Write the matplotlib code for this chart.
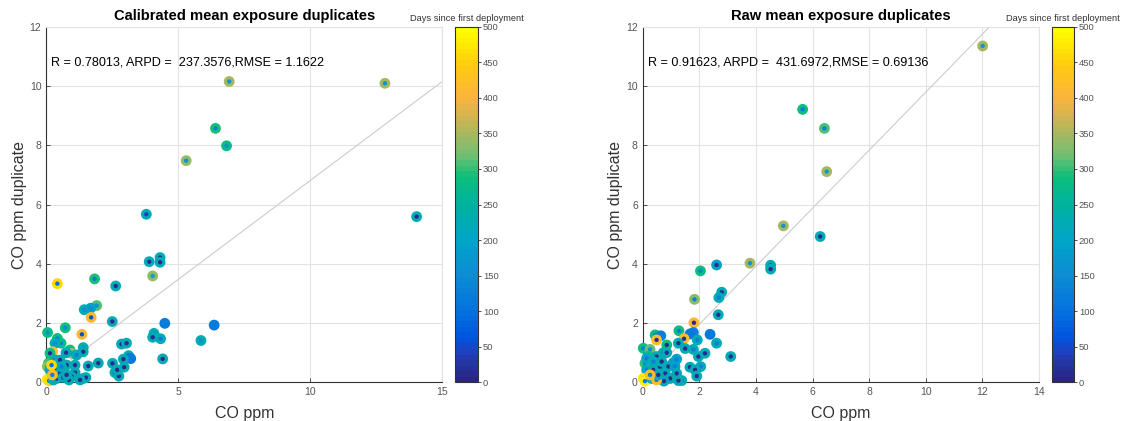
import numpy as np
import matplotlib
matplotlib.use("Agg")
import matplotlib.pyplot as plt
from matplotlib.colors import LinearSegmentedColormap, Normalize

plt.rcParams['font.family'] = ['Liberation Sans', 'DejaVu Sans']

# ---------------- data ----------------
# Calibrated: x, y, face days, edge days
cal_x = [6.93, 12.83, 6.41, 6.83, 5.30, 3.79, 14.03, 3.90, 4.31, 4.31, 4.03, 0.42, 1.83, 2.63,
         1.91, 1.44, 1.68, 1.70, 2.50, 4.49, 6.36, 0.05, 0.72, 1.35, 5.86, 4.08, 4.03, 4.33, 4.41,
         2.85, 3.04, 3.12, 3.20, 2.92, 2.51, 1.97, 1.59, 2.60, 2.75, 2.69, 2.95, 1.40, 1.40, 1.40,
         1.50, 1.28, 1.09, 0.96, 0.86, 0.77, 1.09, 0.90, 0.96, 0.75, 0.56, 0.42, 0.33, 0.24, 0.14,
         0.08, 0.04, 0.14, 0.33, 0.04, 0.11, 0.27, 0.39, 0.52, 0.64, 0.33, 0.52, 0.23, 1.15, 0.77,
         0.58, 0.20]
cal_y = [10.15, 10.09, 8.57, 7.98, 7.48, 5.67, 5.59, 4.07, 4.21, 4.05, 3.59, 3.33, 3.49, 3.25,
         2.59, 2.45, 2.50, 2.19, 2.05, 1.99, 1.93, 1.68, 1.84, 1.62, 1.41, 1.65, 1.52, 1.47, 0.79,
         1.29, 1.32, 0.90, 0.80, 0.78, 0.64, 0.65, 0.55, 0.33, 0.21, 0.42, 0.51, 1.17, 1.03, 0.13,
         0.16, 0.08, 0.33, 0.19, 0.08, 0.58, 0.58, 1.09, 0.98, 1.00, 1.32, 1.48, 1.32, 1.03, 0.98,
         0.64, 0.53, 0.42, 0.42, 0.10, 0.05, 0.08, 0.13, 0.30, 0.17, 0.75, 0.75, 0.25, 0.92, 0.25,
         0.53, 0.58]
cal_face = [170, 170, 130, 170, 170, 40, 10, 10, 10, 10, 200, 100, 120, 10,
            150, 150, 150, 60, 10, 120, 120, 150, 150, 60, 150, 130, 10, 120, 10,
            10, 10, 10, 110, 10, 10, 10, 10, 10, 10, 10, 10, 150, 10, 10,
            10, 10, 10, 10, 10, 10, 10, 130, 130, 10, 130, 130, 150, 80, 10,
            130, 150, 130, 10, 150, 100, 130, 10, 10, 10, 130, 10, 130, 130, 10,
            130, 100]
cal_edge = [350, 350, 290, 280, 340, 220, 225, 220, 220, 220, 340, 460, 290, 225,
            310, 225, 190, 410, 225, 120, 120, 285, 285, 410, 230, 225, 225, 225, 225,
            225, 225, 225, 110, 225, 225, 225, 225, 225, 225, 225, 225, 230, 225, 225,
            225, 225, 225, 225, 225, 225, 225, 285, 330, 225, 285, 285, 225, 420, 285,
            300, 330, 225, 225, 470, 460, 225, 225, 225, 225, 225, 225, 420, 225, 225,
            225, 460]

# Raw: x, y, face days, edge days
raw_x = [12.01, 5.65, 6.42, 6.50, 4.97, 6.27, 3.79, 4.52, 4.52, 2.61, 2.04, 2.79, 2.69, 1.83,
         2.67, 1.81, 1.79, 1.67, 2.38, 2.61, 1.28, 1.46, 1.26, 1.50, 1.93, 1.97, 2.20, 3.11, 2.05,
         1.67, 1.85, 1.91, 1.38, 1.26, 1.79, 1.08, 1.20, 0.91, 0.79, 0.97, 0.75, 0.44, 0.64, 0.49,
         0.85, 0.73, 0.85, 0.02, 0.26, 0.20, 0.49, 0.08, 0.14, 0.38, 0.61, 0.02, 0.08, 0.32, 0.49,
         0.55, 0.26, 0.14, 0.38, 0.67, 1.14, 1.20]
raw_y = [11.35, 9.21, 8.57, 7.11, 5.28, 4.92, 4.02, 3.95, 3.82, 3.96, 3.76, 3.04, 2.86, 2.80,
         2.28, 2.01, 1.68, 1.63, 1.62, 1.32, 1.74, 1.47, 1.32, 1.14, 1.43, 0.87, 0.98, 0.87, 0.53,
         0.51, 0.42, 0.21, 0.06, 0.06, 1.11, 0.66, 0.78, 0.53, 0.30, 0.13, 0.04, 1.60, 1.57, 1.43,
         1.26, 1.00, 1.00, 1.15, 1.11, 0.87, 0.87, 0.64, 0.42, 0.42, 0.53, 0.13, 0.04, 0.13, 0.08,
         0.25, 0.25, 0.81, 0.70, 0.70, 0.53, 0.30]
raw_face = [170, 120, 130, 170, 170, 10, 170, 10, 10, 10, 130, 10, 130, 130,
            10, 10, 130, 110, 110, 130, 120, 10, 10, 10, 130, 10, 10, 10, 130,
            10, 10, 10, 10, 10, 130, 130, 130, 10, 10, 10, 10, 130, 130, 10,
            10, 10, 10, 130, 150, 130, 10, 130, 130, 10, 10, 130, 120, 10, 130,
            10, 130, 130, 130, 10, 130, 10]
raw_edge = [350, 285, 310, 350, 350, 225, 350, 220, 220, 190, 285, 225, 225, 330,
            225, 410, 130, 110, 110, 225, 285, 420, 225, 225, 225, 225, 225, 225, 225,
            225, 225, 225, 225, 225, 225, 190, 190, 225, 225, 225, 225, 285, 130, 420,
            285, 225, 225, 285, 320, 285, 225, 300, 225, 225, 225, 470, 480, 225, 420,
            225, 420, 200, 225, 225, 190, 225]

# line through data: slope, intercept
cal_line = (0.668, 0.13)
raw_line = (0.979, 0.0)

titles = ["Calibrated mean exposure duplicates", "Raw mean exposure duplicates"]
stats = ["R = 0.78013, ARPD =  237.3576,RMSE = 1.1622",
         "R = 0.91623, ARPD =  431.6972,RMSE = 0.69136"]
xlims = [15, 14]
xtick_sets = [[0, 5, 10, 15], [0, 2, 4, 6, 8, 10, 12, 14]]
yticks = [0, 2, 4, 6, 8, 10, 12]
cbar_ticks = list(range(0, 501, 50))
cbar_label = "Days since first deployment"

# parula-like colormap (64 levels), anchors
cmap_anchors = [
    (0,   (0.17, 0.15, 0.50)),
    (40,  (0.12, 0.25, 0.75)),
    (60,  (0.00, 0.33, 0.88)),
    (100, (0.02, 0.45, 0.87)),
    (150, (0.05, 0.55, 0.83)),
    (200, (0.00, 0.65, 0.78)),
    (250, (0.00, 0.70, 0.62)),
    (290, (0.05, 0.75, 0.48)),
    (320, (0.45, 0.75, 0.45)),
    (350, (0.65, 0.72, 0.38)),
    (400, (0.98, 0.70, 0.25)),
    (450, (1.00, 0.80, 0.05)),
    (500, (1.00, 1.00, 0.00)),
]
parula = LinearSegmentedColormap.from_list(
    "parula_like", [(v / 500.0, c) for v, c in cmap_anchors], N=64)
norm = Normalize(0, 500)

fig = plt.figure(figsize=(11.23, 4.21), dpi=100)
ax_rects = [[0.0412, 0.0919, 0.3526, 0.8447], [0.5723, 0.0919, 0.3529, 0.8447]]
cb_rects = [[0.4052, 0.0919, 0.0205, 0.8447], [0.9368, 0.0919, 0.0196, 0.8447]]

datasets = [(cal_x, cal_y, cal_face, cal_edge, cal_line), (raw_x, raw_y, raw_face, raw_edge, raw_line)]
tick_col = '#555555'
for i, (xs, ys, fc, ec, line) in enumerate(datasets):
    ax = fig.add_axes(ax_rects[i])
    ax.set_xlim(0, xlims[i])
    ax.set_ylim(0, 12)
    ax.set_xticks(xtick_sets[i])
    ax.set_yticks(yticks)
    ax.grid(True, color='#e3e3e3', linewidth=0.8)
    ax.set_axisbelow(True)
    lx = np.array([0, xlims[i]])
    ax.plot(lx, line[0] * lx + line[1], color='#cccccc', linewidth=0.8, zorder=1)
    ax.scatter(xs, ys, c=fc, cmap=parula, norm=norm, s=30,
               edgecolors=parula(norm(np.array(ec))), linewidths=2.3, zorder=3, clip_on=False)
    for side in ['top', 'right']:
        ax.spines[side].set_color('#e3e3e3')
    for side in ['left', 'bottom']:
        ax.spines[side].set_color('#333333')
        ax.spines[side].set_linewidth(0.8)
    ax.tick_params(direction='in', length=3, labelsize=7.5, colors='#333333', labelcolor=tick_col,
                   top=False, right=False, width=0.6)
    ax.set_xlabel("CO ppm", fontsize=11.5, color='#333333', labelpad=6)
    ax.set_ylabel("CO ppm duplicate", fontsize=11.5, color='#333333', labelpad=2)
    ax.set_title(titles[i], fontsize=10.6, fontweight='bold', pad=5)
    ax.text(0.17, 10.79, stats[i], fontsize=9.1, va='center', ha='left', color='black')

    cax = fig.add_axes(cb_rects[i])
    sm = matplotlib.cm.ScalarMappable(norm=norm, cmap=parula)
    cb = fig.colorbar(sm, cax=cax, ticks=cbar_ticks)
    cb.outline.set_linewidth(0.8)
    cb.outline.set_edgecolor('#333333')
    cax.tick_params(direction='out', length=2, labelsize=6.8, colors='#333333', labelcolor=tick_col,
                    width=0.6, pad=1.5)
    cax.set_title(cbar_label, fontsize=6.65, pad=4, color='#333333')

fig.savefig("out.png", dpi=100)
